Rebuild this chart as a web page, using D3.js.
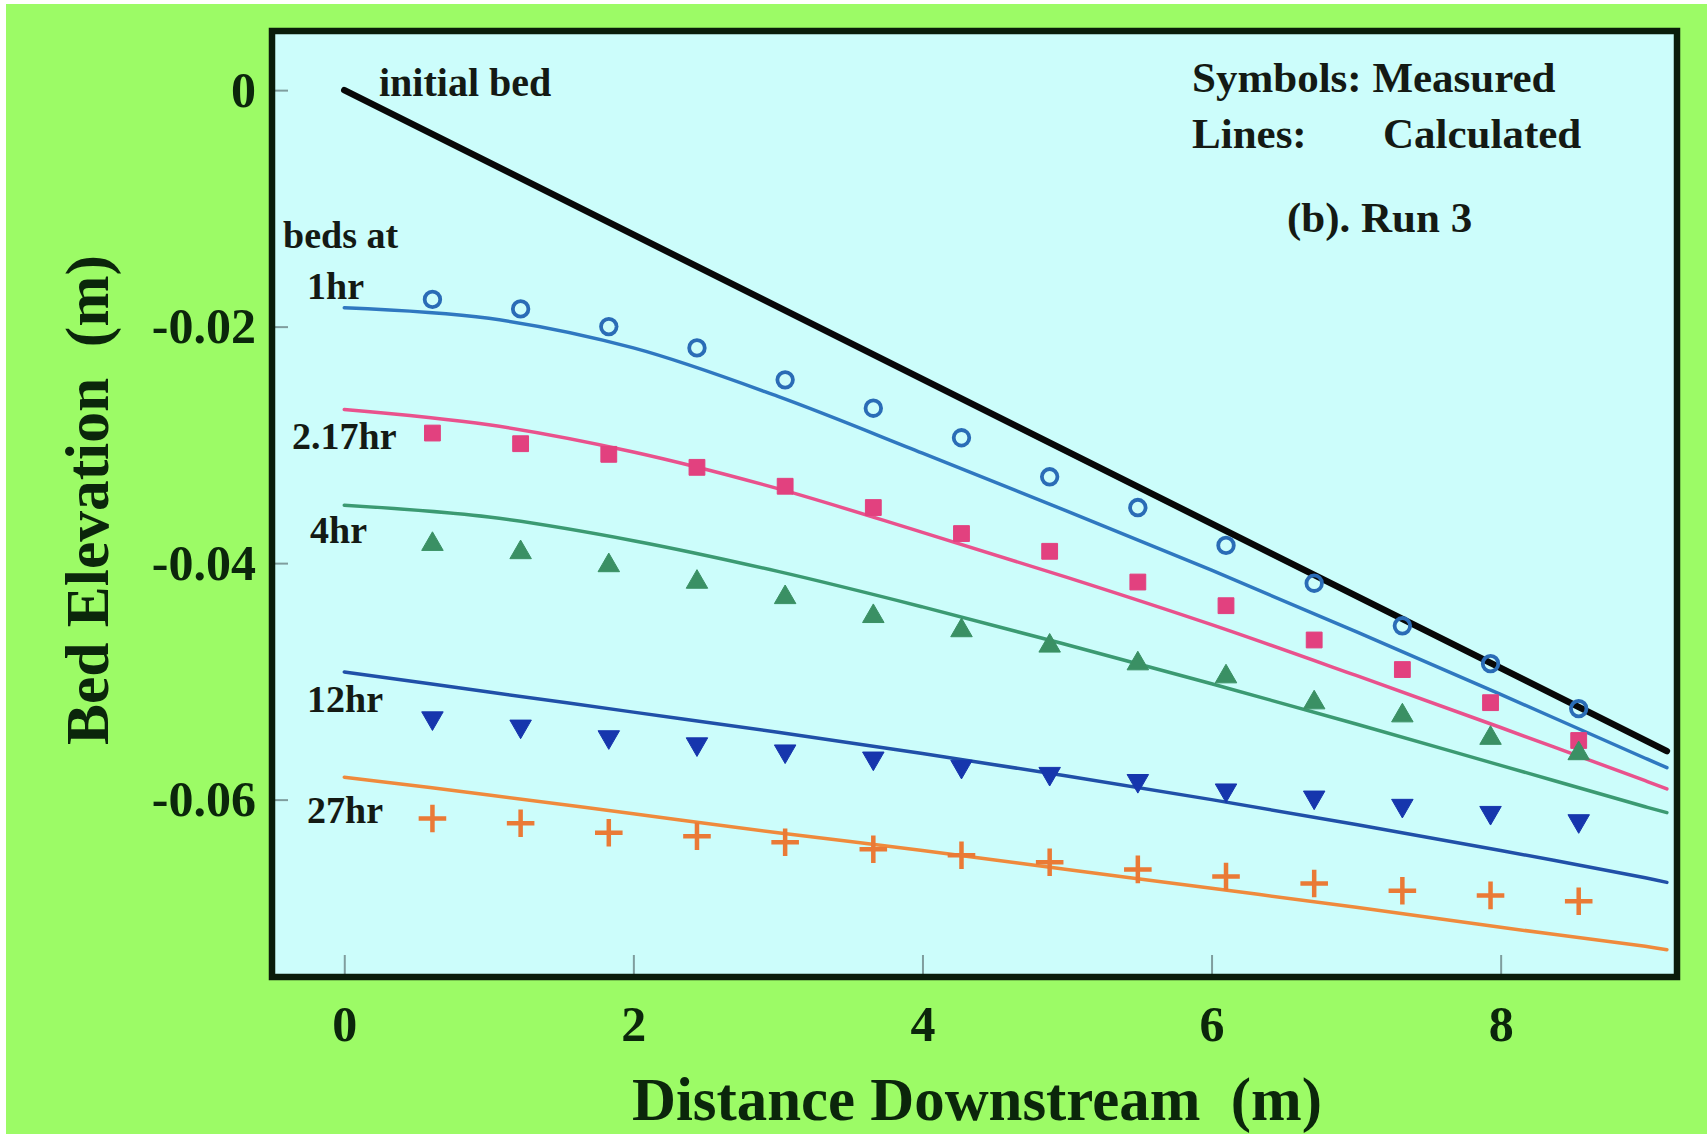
<!DOCTYPE html>
<html>
<head>
<meta charset="utf-8">
<script src="https://cdn.jsdelivr.net/npm/d3@7"></script>
<style>
  body { margin: 0; background: #fff; }
  svg { display: block; }
  text { font-family: "Liberation Serif", "Times New Roman", serif; font-weight: bold; white-space: pre; }
</style>
</head>
<body>
<svg id="chart" width="1707" height="1134"></svg>
<script>
// measured stations (m), every 2 ft
const distance = [0.61, 1.22, 1.83, 2.44, 3.05, 3.66, 4.27, 4.88, 5.49, 6.10, 6.71, 7.32, 7.93, 8.54];

// measured bed elevations (m)
const meas1hr  = [-0.0177, -0.0185, -0.0200, -0.0218, -0.0245, -0.0269, -0.0294, -0.0327, -0.0353, -0.0385, -0.0417, -0.0453, -0.0485, -0.0523];
const meas2hr  = [-0.0290, -0.0299, -0.0308, -0.0319, -0.0335, -0.0353, -0.0375, -0.0390, -0.0416, -0.0436, -0.0465, -0.0490, -0.0518, -0.0550];
const meas4hr  = [-0.0384, -0.0391, -0.0402, -0.0416, -0.0429, -0.0445, -0.0457, -0.0470, -0.0485, -0.0496, -0.0518, -0.0529, -0.0548, -0.0561];
const meas12hr = [-0.0531, -0.0538, -0.0547, -0.0553, -0.0559, -0.0565, -0.0572, -0.0578, -0.0584, -0.0592, -0.0598, -0.0605, -0.0611, -0.0618];
const meas27hr = [-0.0616, -0.0620, -0.0628, -0.0631, -0.0636, -0.0642, -0.0647, -0.0653, -0.0659, -0.0665, -0.0671, -0.0677, -0.0681, -0.0686];

// calculated profiles
const calcX     = [0, 1, 2, 3, 4, 5, 6, 7, 8, 9, 9.15];
const calc1hr   = [-0.0184, -0.0193, -0.0218, -0.0259, -0.0307, -0.0356, -0.0406, -0.0458, -0.0511, -0.0565, -0.0573];
const calc2hr   = [-0.0270, -0.0283, -0.0306, -0.0337, -0.0374, -0.0412, -0.0452, -0.0495, -0.0539, -0.0584, -0.0591];
const calc4hr   = [-0.0351, -0.0361, -0.0381, -0.0407, -0.0437, -0.0469, -0.0502, -0.0536, -0.0571, -0.0606, -0.0611];
const calc12hr  = [-0.0492, -0.0509, -0.0526, -0.0543, -0.0561, -0.0580, -0.0600, -0.0621, -0.0643, -0.0666, -0.0670];
const calc27hr  = [-0.0581, -0.0596, -0.0612, -0.0628, -0.0643, -0.0659, -0.0675, -0.0691, -0.0708, -0.0724, -0.0727];

const initialX   = [0, 9.15];
const initialBed = [0, -0.0559];

const xTicks = [0, 2, 4, 6, 8];
const yTicks = [0, -0.02, -0.04, -0.06];
const yTickLabels = ['0', '-0.02', '-0.04', '-0.06'];

const W = 1707, H = 1134;
const frame = { left: 272, top: 31, right: 1677, bottom: 977 };
const INK = '#0b260b';

const svg = d3.select('#chart');

svg.append('rect').attr('x', 6).attr('y', 4).attr('width', W - 6).attr('height', H - 4).attr('fill', '#9cfb66');
svg.append('rect')
  .attr('x', frame.left).attr('y', frame.top)
  .attr('width', frame.right - frame.left).attr('height', frame.bottom - frame.top)
  .attr('fill', '#ccfdfb');

const x = d3.scaleLinear().domain([-0.5, 9.22]).range([frame.left, frame.right]);
const y = d3.scaleLinear().domain([0.005, -0.075]).range([frame.top, frame.bottom]);

// axes: ticks point inward
const yAxis = svg.append('g')
  .attr('transform', `translate(${frame.left},0)`)
  .call(d3.axisLeft(y).tickValues(yTicks).tickSize(-16).tickPadding(16)
    .tickFormat((d, i) => yTickLabels[i]));
const xAxis = svg.append('g')
  .attr('transform', `translate(0,${frame.bottom})`)
  .call(d3.axisBottom(x).tickValues(xTicks).tickSize(-22).tickPadding(28).tickFormat(d3.format('d')));

[yAxis, xAxis].forEach(g => {
  g.select('.domain').remove();
  g.selectAll('.tick line').attr('stroke', '#7f9d9d').attr('stroke-width', 2);
  g.selectAll('.tick text').attr('fill', INK).style('font-size', '50px');
});

const series = [
  { key: '1hr',    meas: meas1hr,  calc: calc1hr,  line: '#2f78c0', mark: '#2a6cb6', shape: 'circle' },
  { key: '2.17hr', meas: meas2hr,  calc: calc2hr,  line: '#e9528d', mark: '#e2417f', shape: 'square' },
  { key: '4hr',    meas: meas4hr,  calc: calc4hr,  line: '#3b9a72', mark: '#3a9064', shape: 'triangle' },
  { key: '12hr',   meas: meas12hr, calc: calc12hr, line: '#2050a8', mark: '#1636ad', shape: 'down' },
  { key: '27hr',   meas: meas27hr, calc: calc27hr, line: '#ef8a3c', mark: '#ea7a36', shape: 'plus' },
];

const plot = svg.append('g');

const line = d3.line()
  .x(d => x(d[0]))
  .y(d => y(d[1]))
  .curve(d3.curveCatmullRom.alpha(0.5));

series.forEach(s => {
  plot.append('path')
    .attr('d', line(calcX.map((v, i) => [v, s.calc[i]])))
    .attr('fill', 'none')
    .attr('stroke', s.line)
    .attr('stroke-width', 3.5)
    .attr('stroke-linecap', 'round');
});

plot.append('path')
  .attr('d', line(initialX.map((v, i) => [v, initialBed[i]])))
  .attr('fill', 'none')
  .attr('stroke', '#080808')
  .attr('stroke-width', 6.5)
  .attr('stroke-linecap', 'round');

const symbols = {
  circle:   d3.symbol().type(d3.symbolCircle).size(190),
  square:   d3.symbol().type(d3.symbolSquare).size(250),
  triangle: d3.symbol().type(d3.symbolTriangle).size(200),
  down:     d3.symbol().type(d3.symbolTriangle).size(200),
  plus:     d3.symbol().type(d3.symbolPlus).size(250),
};

series.forEach(s => {
  const g = plot.append('g');
  g.selectAll('path')
    .data(distance.map((d, i) => [d, s.meas[i]]))
    .join('path')
    .attr('d', symbols[s.shape])
    .attr('transform', d => `translate(${x(d[0])},${y(d[1])})${s.shape === 'down' ? ' rotate(180)' : ''}`)
    .attr('fill', s.shape === 'circle' || s.shape === 'plus' ? 'none' : s.mark)
    .attr('stroke', s.mark)
    .attr('stroke-width', s.shape === 'circle' ? 3.8 : s.shape === 'plus' ? 4.5 : 1);
});

// frame on top
svg.append('rect')
  .attr('x', frame.left).attr('y', frame.top)
  .attr('width', frame.right - frame.left).attr('height', frame.bottom - frame.top)
  .attr('fill', 'none').attr('stroke', '#0a1c0a').attr('stroke-width', 6.5);

// annotations
const notes = [
  { text: 'initial bed',       x: 379,  y: 96,  size: 40 },
  { text: 'Symbols: Measured', x: 1192, y: 92,  size: 43 },
  { text: 'Lines:',            x: 1192, y: 148, size: 43 },
  { text: 'Calculated',        x: 1383, y: 148, size: 43 },
  { text: '(b). Run 3',        x: 1287, y: 232, size: 43 },
  { text: 'beds at',           x: 283,  y: 248, size: 38 },
  { text: '1hr',               x: 307,  y: 299, size: 38 },
  { text: '2.17hr',            x: 292,  y: 449, size: 38 },
  { text: '4hr',               x: 310,  y: 543, size: 38 },
  { text: '12hr',              x: 307,  y: 712, size: 38 },
  { text: '27hr',              x: 307,  y: 823, size: 38 },
];
svg.append('g').selectAll('text')
  .data(notes)
  .join('text')
  .attr('x', d => d.x).attr('y', d => d.y)
  .attr('fill', '#141a14')
  .style('font-size', d => d.size + 'px')
  .text(d => d.text);

// axis titles
svg.append('text')
  .attr('x', 977).attr('y', 1120)
  .attr('text-anchor', 'middle')
  .attr('fill', INK)
  .style('font-size', '62px')
  .attr('textLength', 690).attr('lengthAdjust', 'spacingAndGlyphs')
  .text('Distance Downstream  (m)');

svg.append('text')
  .attr('transform', 'translate(108,500) rotate(-90)')
  .attr('text-anchor', 'middle')
  .attr('fill', INK)
  .style('font-size', '62px')
  .attr('textLength', 490).attr('lengthAdjust', 'spacingAndGlyphs')
  .text('Bed Elevation  (m)');
</script>
</body>
</html>
